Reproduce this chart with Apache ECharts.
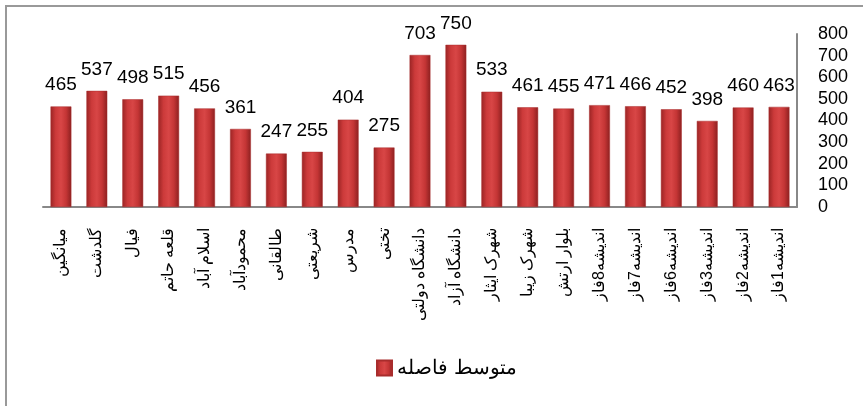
<!DOCTYPE html>
<html>
<head>
<meta charset="utf-8">
<script src="https://cdn.jsdelivr.net/npm/echarts@6/dist/echarts.min.js"></script>
<style>html,body{margin:0;padding:0;background:#fff}#c{width:863px;height:406px}</style>
</head>
<body>
<div id="c"></div>
<script>
var categories = ['میانگین','گلدشت','فیال','قلعه حاتم','اسلام آباد','محمودآباد','طالقانی','شریعتی','مدرس','تختی','دانشگاه دولتی','دانشگاه آزاد','شهرک ایثار','شهرک زیبا','بلوار ارتش','اندیشه8فاز','اندیشه7فاز','اندیشه6فاز','اندیشه3فاز','اندیشه2فاز','اندیشه1فاز'];
var values = [465,537,498,515,456,361,247,255,404,275,703,750,533,461,455,471,466,452,398,460,463];
var seriesName = 'متوسط فاصله';
var yMin = 0, yMax = 800, yStep = 100;

var chart = echarts.init(document.getElementById('c'));
var barGrad = new echarts.graphic.LinearGradient(0, 0, 1, 0, [
  {offset: 0, color: '#9a2424'},
  {offset: 0.25, color: '#cc3a3a'},
  {offset: 0.5, color: '#d84646'},
  {offset: 0.75, color: '#c43535'},
  {offset: 1, color: '#8c2020'}
]);
chart.setOption({
  animation: false,
  backgroundColor: '#fff',
  graphic: [{
    type: 'rect', shape: {x: 6, y: 6, width: 900, height: 450},
    style: {fill: 'none', stroke: '#999', lineWidth: 2}, silent: true
  }],
  grid: {left: 43, right: 66, top: 34, bottom: 199},
  legend: {
    data: [seriesName], left: 371, top: 353, icon: 'rect',
    itemWidth: 15, itemHeight: 15, itemGap: 10,
    textStyle: {fontSize: 20, color: '#000', fontFamily: 'sans-serif'}
  },
  xAxis: {
    type: 'category', data: categories,
    axisLine: {lineStyle: {color: '#888', width: 2}},
    axisTick: {show: false},
    axisLabel: {rotate: 90, interval: 0, margin: 21, fontSize: 16, color: '#000', fontFamily: 'sans-serif'}
  },
  yAxis: {
    type: 'value', position: 'right', min: yMin, max: yMax, interval: yStep,
    axisLine: {show: true, lineStyle: {color: '#888', width: 2}},
    axisTick: {show: false},
    splitLine: {show: false},
    axisLabel: {margin: 21, fontSize: 18, color: '#000', fontFamily: 'Liberation Sans', align: 'left'}
  },
  series: [{
    name: seriesName, type: 'bar', data: values, barWidth: '58%',
    itemStyle: {color: barGrad, borderColor: '#a82c2c', borderWidth: 0.5},
    label: {show: true, position: 'top', distance: 12, fontSize: 19, color: '#000', fontFamily: 'Liberation Sans'}
  }]
});
</script>
</body>
</html>
